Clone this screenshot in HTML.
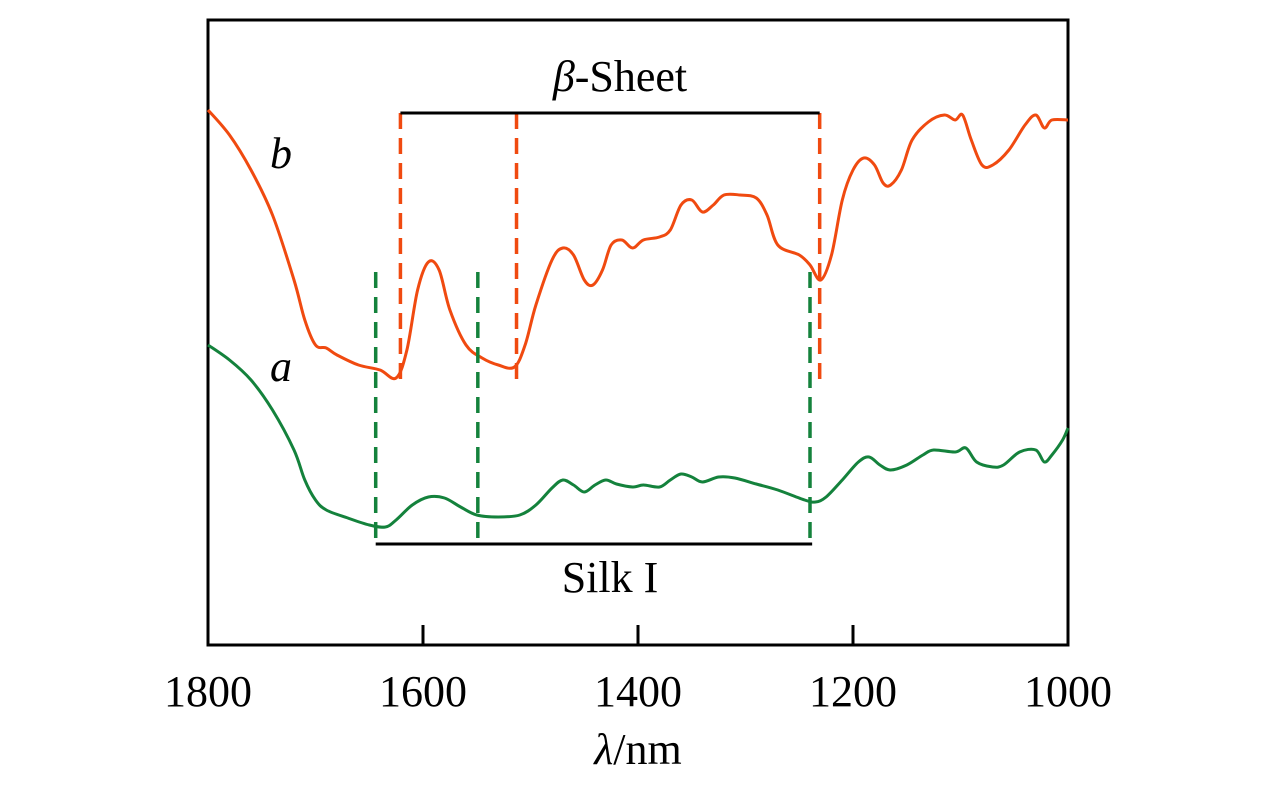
<!DOCTYPE html>
<html><head><meta charset="utf-8"><style>
html,body{margin:0;padding:0;background:#fff;width:1276px;height:787px;overflow:hidden}
text{font-family:"Liberation Serif",serif;fill:#000}
</style></head><body>
<svg id="chart" width="1276" height="787" viewBox="0 0 1276 787" xmlns="http://www.w3.org/2000/svg">
<rect x="208" y="20" width="860" height="625" fill="none" stroke="#000" stroke-width="3"/>
<g id="marks"></g>
<text x="620" y="91" font-size="44" text-anchor="middle"><tspan font-style="italic">β</tspan>-Sheet</text>
<text x="610" y="592" font-size="44" text-anchor="middle">Silk I</text>
<text x="281" y="168" font-size="44" font-style="italic" text-anchor="middle">b</text>
<text x="281" y="381" font-size="44" font-style="italic" text-anchor="middle">a</text>
<text x="638" y="764" font-size="44" text-anchor="middle"><tspan font-style="italic">λ</tspan>/nm</text>
</svg>
<script>
const xTicks=[1800,1600,1400,1200,1000];
const bWave=[1800,1780,1760,1740,1720,1710,1700,1690,1680,1660,1640,1625,1615,1605,1595,1585,1575,1560,1545,1530,1515,1505,1495,1480,1470,1460,1450,1442,1433,1425,1415,1405,1395,1380,1370,1360,1350,1340,1330,1320,1305,1290,1280,1270,1250,1240,1230,1220,1210,1200,1190,1180,1172,1165,1155,1145,1130,1115,1105,1098,1090,1080,1070,1055,1040,1030,1022,1015,1000];
const bVal=[534,509,474,429,364,324,299,296,289,279,274,266,294,354,382,374,334,299,286,279,277,299,339,384,396,389,364,359,374,399,404,396,404,407,414,439,444,432,439,449,449,446,429,399,389,379,364,389,444,474,486,479,461,459,474,504,522,529,524,529,504,479,479,494,519,529,516,524,524];
const aWave=[1800,1780,1760,1740,1720,1710,1700,1690,1670,1650,1635,1625,1610,1595,1580,1565,1550,1530,1510,1495,1480,1470,1460,1450,1440,1430,1420,1405,1395,1380,1370,1360,1350,1340,1325,1310,1290,1270,1245,1235,1225,1210,1195,1185,1175,1165,1150,1135,1125,1105,1095,1085,1070,1060,1045,1030,1022,1015,1005,1000];
const aVal=[299,284,264,234,194,164,144,134,126,119,117,124,139,147,146,137,129,127,129,139,156,164,159,152,159,164,160,157,159,157,164,170,167,162,167,166,160,154,144,142,147,164,182,187,179,174,179,189,194,192,196,182,177,179,192,194,182,189,204,216];
const betaLines=[1621,1513,1231];
const silkLines=[1644,1549,1240];
const betaBar=[1621,1231], silkBar=[1644,1238];
const X=w=>208+(1800-w)*860/800;
const Y=v=>644-v;
const ns="http://www.w3.org/2000/svg";
const g=document.getElementById('marks');
function mk(t,a){const e=document.createElementNS(ns,t);for(const k in a)e.setAttribute(k,a[k]);g.appendChild(e);return e;}
xTicks.forEach(t=>{
 const l=mk('line',{x1:X(t),x2:X(t),y1:625,y2:645,stroke:'#000','stroke-width':3});
 
 
 const tx=mk('text',{x:X(t),y:706,'font-size':44,'text-anchor':'middle'});
 tx.textContent=t;
 
 
});
function curve(w,v,c,n){
 const P=w.map((x,i)=>[X(x),Y(v[i])]);
 let d='M'+P[0][0].toFixed(1)+','+P[0][1];
 for(let i=0;i<P.length-1;i++){
  const p0=P[Math.max(0,i-1)],p1=P[i],p2=P[i+1],p3=P[Math.min(P.length-1,i+2)];
  const c1=[p1[0]+(p2[0]-p0[0])/6,p1[1]+(p2[1]-p0[1])/6];
  const c2=[p2[0]-(p3[0]-p1[0])/6,p2[1]-(p3[1]-p1[1])/6];
  d+='C'+c1[0].toFixed(1)+','+c1[1].toFixed(1)+' '+c2[0].toFixed(1)+','+c2[1].toFixed(1)+' '+p2[0].toFixed(1)+','+p2[1];
 }
 const p=mk('path',{d:d,fill:'none',stroke:c,'stroke-width':3,'stroke-linejoin':'round'});
 
 
}
curve(bWave,bVal,'#f04a10','curve-b');
curve(aWave,aVal,'#14823c','curve-a');
betaLines.forEach(w=>{
 const l=mk('line',{x1:X(w),x2:X(w),y1:113,y2:386,stroke:'#f04a10','stroke-width':3.5,'stroke-dasharray':'16,9'});
 
 
});
silkLines.forEach(w=>{
 const l=mk('line',{x1:X(w),x2:X(w),y1:272,y2:544,stroke:'#14823c','stroke-width':3.5,'stroke-dasharray':'16,9'});
 
 
});
const bb=mk('line',{x1:X(betaBar[0]),x2:X(betaBar[1]),y1:113,y2:113,stroke:'#000','stroke-width':3});


const sb=mk('line',{x1:X(silkBar[0]),x2:X(silkBar[1]),y1:544,y2:544,stroke:'#000','stroke-width':3});


</script>
</body></html>
